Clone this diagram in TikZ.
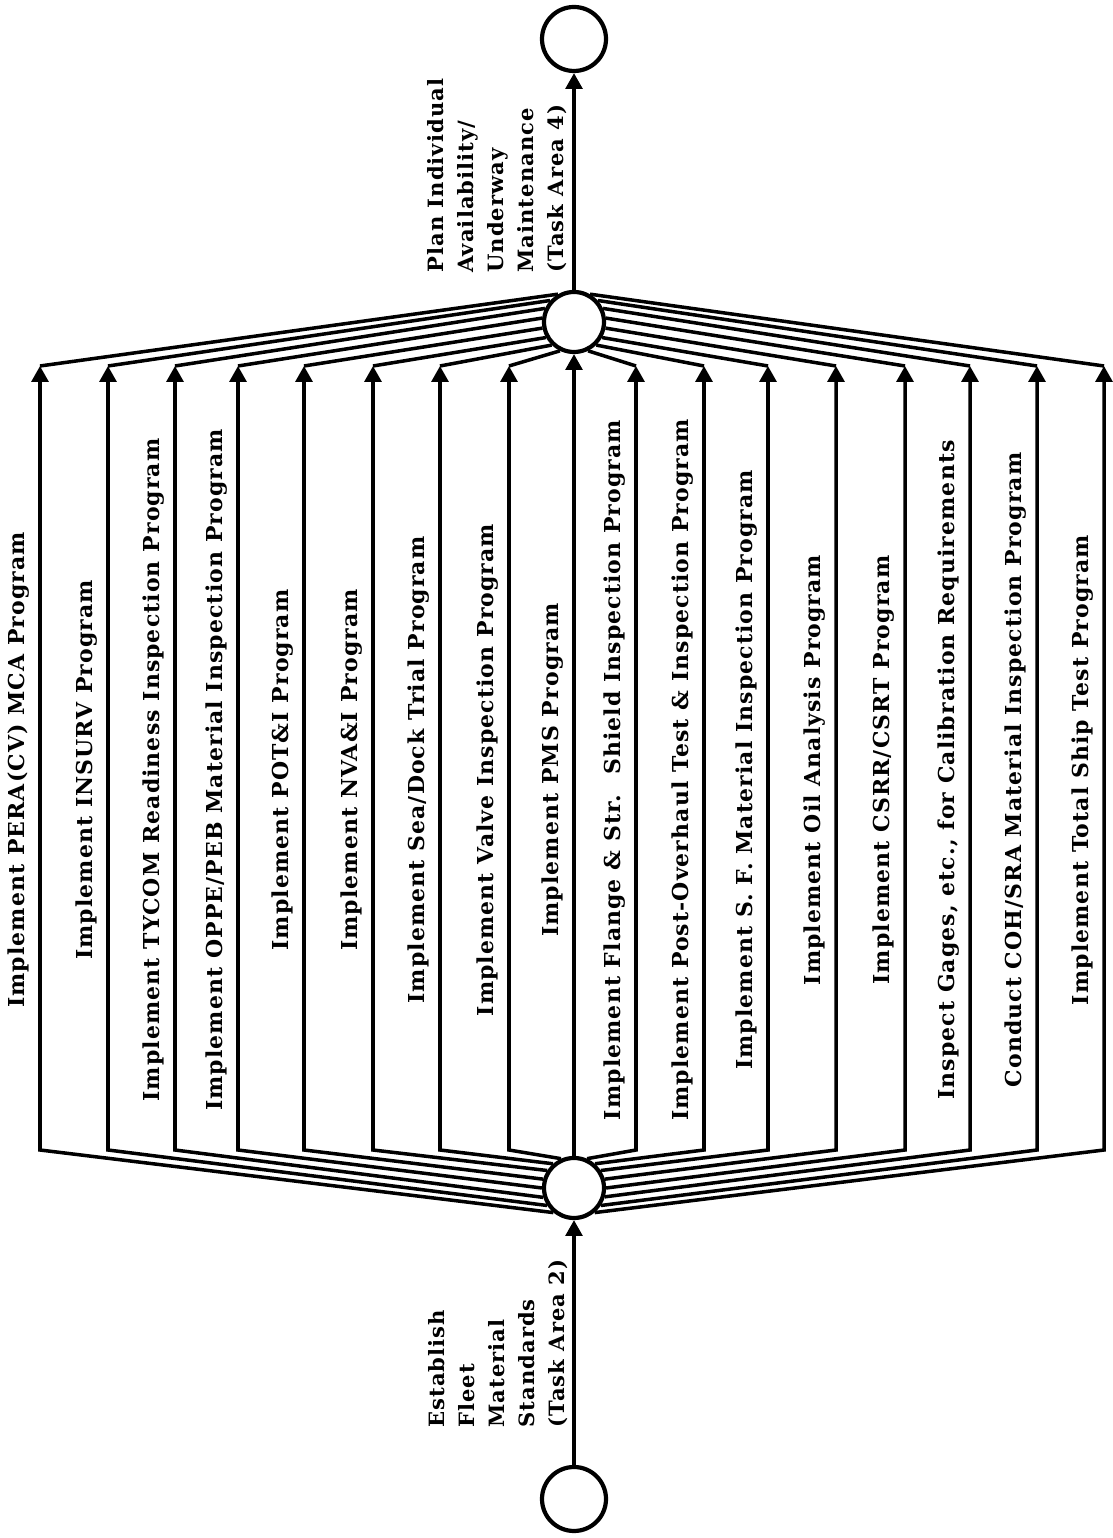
\documentclass[tikz,border=0pt]{standalone}
\usepackage{fontspec}
\setmainfont{DejaVu Serif}
\newfontfamily\progfont[LetterSpace=5]{DejaVu Serif}
\usetikzlibrary{arrows.meta}
\tikzset{
    stage/.style={draw=black, circle, line width=2.4pt, fill=white,
        minimum size=1.28cm, inner sep=0pt},
    junction/.style={stage, minimum size=1.2cm},
    prog label/.style={rotate=90, anchor=south, inner sep=0pt,
        font=\progfont\bfseries\fontsize{12.5}{15}\selectfont},
    side label/.style={rotate=90, anchor=south west, inner sep=0pt,
        align=left, font=\progfont\bfseries\fontsize{12}{17}\selectfont},
    flow edge/.style={-{Triangle[length=9pt, width=9.5pt]},
        line width=2pt, draw=black},
    link edge/.style={line width=2pt, draw=black},
}

\begin{document}
\begin{tikzpicture}

\useasboundingbox (0, 0) rectangle (22.26, 30.76);

% ===== STAGE CIRCLES =====
\node[stage] (start) at (11.48, 0.78) {};
\node[junction] (midB) at (11.48, 7.00) {};
\node[junction] (midT) at (11.48, 24.32) {};
\node[stage] (finish) at (11.48, 29.98) {};

% ===== TASK AREA LABELS =====
\node[side label] (estab) at (11.36, 2.20) {Establish\\Fleet\\Material\\Standards\\(Task Area 2)};
\node[side label] (plan) at (11.34, 25.30) {Plan Individual\\Availability/\\Underway\\Maintenance\\(Task Area 4)};

% ===== PROGRAM LABELS =====
\node[prog label] (pera) at (0.60, 15.36) {Implement PERA(CV) MCA Program};
\node[prog label] (insurv) at (1.96, 15.36) {Implement INSURV Program};
\node[prog label] (tycom) at (3.30, 15.36) {Implement TYCOM Readiness Inspection Program};
\node[prog label] (oppe) at (4.56, 15.36) {Implement OPPE/PEB Material Inspection Program};
\node[prog label] (poti) at (5.88, 15.36) {Implement POT\&I Program};
\node[prog label] (nvai) at (7.26, 15.36) {Implement NVA\&I Program};
\node[prog label] (seadock) at (8.60, 15.36) {Implement Sea/Dock Trial Program};
\node[prog label] (valve) at (9.98, 15.36) {Implement Valve Inspection Program};
\node[prog label] (pms) at (11.28, 15.36) {Implement PMS Program};
\node[prog label] (flange) at (12.52, 15.36) {Implement Flange \& Str.~ Shield Inspection Program};
\node[prog label] (postoh) at (13.88, 15.36) {Implement Post-Overhaul Test \& Inspection Program};
\node[prog label] (sf) at (15.16, 15.36) {Implement S. F. Material Inspection Program};
\node[prog label] (oil) at (16.52, 15.36) {Implement Oil Analysis Program};
\node[prog label] (csrr) at (17.90, 15.36) {Implement CSRR/CSRT Program};
\node[prog label] (gages) at (19.20, 15.36) {Inspect Gages, etc., for Calibration Requirements};
\node[prog label] (coh) at (20.54, 15.36) {Conduct COH/SRA Material Inspection Program};
\node[prog label] (tst) at (21.88, 15.36) {Implement Total Ship Test Program};

% ===== CORNERS =====
\coordinate (peraB) at (0.80, 7.76);     \coordinate (peraT) at (0.80, 23.44);
\coordinate (insurvB) at (2.16, 7.76);   \coordinate (insurvT) at (2.16, 23.44);
\coordinate (tycomB) at (3.50, 7.76);    \coordinate (tycomT) at (3.50, 23.44);
\coordinate (oppeB) at (4.76, 7.76);     \coordinate (oppeT) at (4.76, 23.44);
\coordinate (potiB) at (6.08, 7.76);     \coordinate (potiT) at (6.08, 23.44);
\coordinate (nvaiB) at (7.46, 7.76);     \coordinate (nvaiT) at (7.46, 23.44);
\coordinate (seadockB) at (8.80, 7.76);  \coordinate (seadockT) at (8.80, 23.44);
\coordinate (valveB) at (10.18, 7.76);   \coordinate (valveT) at (10.18, 23.44);
\coordinate (flangeB) at (12.72, 7.76);  \coordinate (flangeT) at (12.72, 23.44);
\coordinate (postohB) at (14.08, 7.76);  \coordinate (postohT) at (14.08, 23.44);
\coordinate (sfB) at (15.36, 7.76);      \coordinate (sfT) at (15.36, 23.44);
\coordinate (oilB) at (16.72, 7.76);     \coordinate (oilT) at (16.72, 23.44);
\coordinate (csrrB) at (18.10, 7.76);    \coordinate (csrrT) at (18.10, 23.44);
\coordinate (gagesB) at (19.40, 7.76);   \coordinate (gagesT) at (19.40, 23.44);
\coordinate (cohB) at (20.74, 7.76);     \coordinate (cohT) at (20.74, 23.44);
\coordinate (tstB) at (22.08, 7.76);     \coordinate (tstT) at (22.08, 23.44);

% ===== EDGES =====
\draw[flow edge] (start) -- (midB);
\draw[flow edge] (midT) -- (finish);
\draw[flow edge] (midB) -- (midT);
% left fan
\draw[flow edge] (midB.230) -- (peraB) -- (peraT);       \draw[link edge] (peraT) -- (midT.120);
\draw[flow edge] (midB.213) -- (insurvB) -- (insurvT);   \draw[link edge] (insurvT) -- (midT.138);
\draw[flow edge] (midB.197) -- (tycomB) -- (tycomT);     \draw[link edge] (tycomT) -- (midT.155);
\draw[flow edge] (midB.180) -- (oppeB) -- (oppeT);       \draw[link edge] (oppeT) -- (midT.173);
\draw[flow edge] (midB.164) -- (potiB) -- (potiT);       \draw[link edge] (potiT) -- (midT.191);
\draw[flow edge] (midB.147) -- (nvaiB) -- (nvaiT);       \draw[link edge] (nvaiT) -- (midT.209);
\draw[flow edge] (midB.131) -- (seadockB) -- (seadockT); \draw[link edge] (seadockT) -- (midT.226);
\draw[flow edge] (midB.114) -- (valveB) -- (valveT);     \draw[link edge] (valveT) -- (midT.244);
% right fan
\draw[flow edge] (midB.66) -- (flangeB) -- (flangeT);    \draw[link edge] (flangeT) -- (midT.296);
\draw[flow edge] (midB.49) -- (postohB) -- (postohT);    \draw[link edge] (postohT) -- (midT.314);
\draw[flow edge] (midB.33) -- (sfB) -- (sfT);            \draw[link edge] (sfT) -- (midT.331);
\draw[flow edge] (midB.16) -- (oilB) -- (oilT);          \draw[link edge] (oilT) -- (midT.349);
\draw[flow edge] (midB.0) -- (csrrB) -- (csrrT);         \draw[link edge] (csrrT) -- (midT.7);
\draw[flow edge] (midB.-16) -- (gagesB) -- (gagesT);     \draw[link edge] (gagesT) -- (midT.25);
\draw[flow edge] (midB.-33) -- (cohB) -- (cohT);         \draw[link edge] (cohT) -- (midT.42);
\draw[flow edge] (midB.-50) -- (tstB) -- (tstT);         \draw[link edge] (tstT) -- (midT.60);

\end{tikzpicture}
\end{document}
